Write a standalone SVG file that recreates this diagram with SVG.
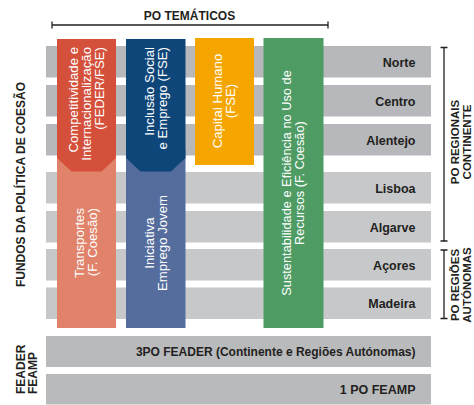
<svg xmlns="http://www.w3.org/2000/svg" width="474" height="405" viewBox="0 0 474 405">
  <style>
    .row { fill: #b6b8bb; }
    .row2 { fill: #c6c8ca; }
    .rowf { fill: #b9babc; }
    .lbl { font-family: "Liberation Sans", Arial, sans-serif; font-weight: bold; font-size: 12.5px; fill: #231f20; text-anchor: end; }
    .hdr { font-family: "Liberation Sans", Arial, sans-serif; font-weight: bold; font-size: 12px; fill: #231f20; }
    .side { font-family: "Liberation Sans", Arial, sans-serif; font-weight: bold; font-size: 11.5px; fill: #231f20; text-anchor: middle; }
    .col { font-family: "Liberation Sans", Arial, sans-serif; font-size: 13.2px; fill: #ffffff; }
    .br { stroke: #231f20; stroke-width: 1.3; fill: none; }
  </style>

  <!-- horizontal rows -->
  <g id="row-norte"><rect class="row" x="46" y="46" width="385" height="31.5"/><text class="lbl" x="415.5" y="66.5">Norte</text></g>
  <g id="row-centro"><rect class="row" x="46" y="85" width="385" height="31.5"/><text class="lbl" x="415.5" y="105.5">Centro</text></g>
  <g id="row-alentejo"><rect class="row" x="46" y="124" width="385" height="31.5"/><text class="lbl" x="415.5" y="144.5">Alentejo</text></g>
  <g id="row-lisboa"><rect class="row2" x="46" y="172" width="385" height="31.5"/><text class="lbl" x="415.5" y="192.5">Lisboa</text></g>
  <g id="row-algarve"><rect class="row2" x="46" y="211" width="385" height="31.5"/><text class="lbl" x="415.5" y="231.5">Algarve</text></g>
  <g id="row-acores"><rect class="row2" x="46" y="249" width="385" height="31.5"/><text class="lbl" x="415.5" y="269.5">Açores</text></g>
  <g id="row-madeira"><rect class="row2" x="46" y="287.5" width="385" height="31.5"/><text class="lbl" x="415.5" y="308">Madeira</text></g>
  <g id="row-feader"><rect class="rowf" x="46" y="336" width="385" height="31"/><text class="lbl" x="415.5" y="356" style="font-size:12px">3PO FEADER (Continente e Regiões Autónomas)</text></g>
  <g id="row-feamp"><rect class="rowf" x="46" y="374" width="385" height="30.5"/><text class="lbl" x="415.5" y="394">1 PO FEAMP</text></g>

  <!-- thematic columns -->
  <g id="col-transportes">
    <rect x="57" y="150" width="59" height="178" fill="#e1836a"/>
    <text class="col" text-anchor="end" transform="translate(86.5,208) rotate(-90)"><tspan x="0" y="-2.5">Transportes</tspan><tspan x="0" y="10.5">(F. Coesão)</tspan></text>
  </g>
  <g id="col-competitividade">
    <polygon points="57,39 116,39 116,158 101.5,171.5 71.5,171.5 57,158" fill="#d4503b"/>
    <text class="col" text-anchor="end" transform="translate(86.5,47) rotate(-90)"><tspan x="0" y="-8.5">Competitividade e</tspan><tspan x="0" y="4.5">Internacionalização</tspan><tspan x="0" y="17.5">(FEDER/FSE)</tspan></text>
  </g>
  <g id="col-iniciativa">
    <rect x="126" y="150" width="59.5" height="178" fill="#556d9d"/>
    <text class="col" text-anchor="middle" transform="translate(155.8,243) rotate(-90)"><tspan x="0" y="-2">Iniciativa</tspan><tspan x="0" y="11">Emprego Jovem</tspan></text>
  </g>
  <g id="col-inclusao">
    <polygon points="126,39 185.5,39 185.5,158 171,171.5 140.5,171.5 126,158" fill="#0f467a"/>
    <text class="col" text-anchor="end" transform="translate(155.8,47) rotate(-90)"><tspan x="0" y="-1.5">Inclusão Social</tspan><tspan x="0" y="11.5">e Emprego (FSE)</tspan></text>
  </g>
  <g id="col-capital">
    <rect x="195" y="38" width="59" height="127" fill="#f5a500"/>
    <text class="col" text-anchor="middle" transform="translate(224.5,101) rotate(-90)"><tspan x="0" y="-3">Capital Humano</tspan><tspan x="0" y="10">(FSE)</tspan></text>
  </g>
  <g id="col-sustentabilidade">
    <rect x="263.5" y="38" width="60" height="290" fill="#4e9b64"/>
    <text class="col" text-anchor="middle" transform="translate(293.5,183) rotate(-90)" style="font-size:12.8px"><tspan x="0" y="-2.5">Sustentabilidade e Eficiência no Uso de</tspan><tspan x="0" y="10.5">Recursos (F. Coesão)</tspan></text>
  </g>

  <!-- brackets -->
  <g id="connectors">
    <path class="br" d="M52,25 H328 M52,21.5 V28.5 M328,21.5 V28.5"/>
    <path class="br" d="M444,47.5 V241 M440.5,47.5 H447.5 M440.5,241 H447.5"/>
    <path class="br" d="M444,250 V318.5 M440.5,250 H447.5 M440.5,318.5 H447.5"/>
  </g>

  <!-- group labels -->
  <g id="label-po-tematicos"><text class="hdr" x="189.5" y="20" text-anchor="middle">PO TEMÁTICOS</text></g>
  <g id="label-fundos"><text class="hdr" text-anchor="middle" transform="translate(24.5,184.5) rotate(-90)">FUNDOS DA POLÍTICA DE COESÃO</text></g>
  <g id="label-feader-feamp">
    <text class="hdr" text-anchor="start" transform="translate(24.5,394) rotate(-90)">FEADER</text>
    <text class="hdr" text-anchor="start" transform="translate(37,394) rotate(-90)">FEAMP</text>
  </g>
  <g id="label-po-regionais">
    <text class="side" transform="translate(458.5,142) rotate(-90)"><tspan x="0" y="0">PO REGIONAIS</tspan><tspan x="0" y="12">CONTINENTE</tspan></text>
  </g>
  <g id="label-po-regioes">
    <text class="side" transform="translate(458.5,285) rotate(-90)"><tspan x="0" y="0">PO REGIÕES</tspan><tspan x="0" y="12">AUTÓNOMAS</tspan></text>
  </g>
</svg>
